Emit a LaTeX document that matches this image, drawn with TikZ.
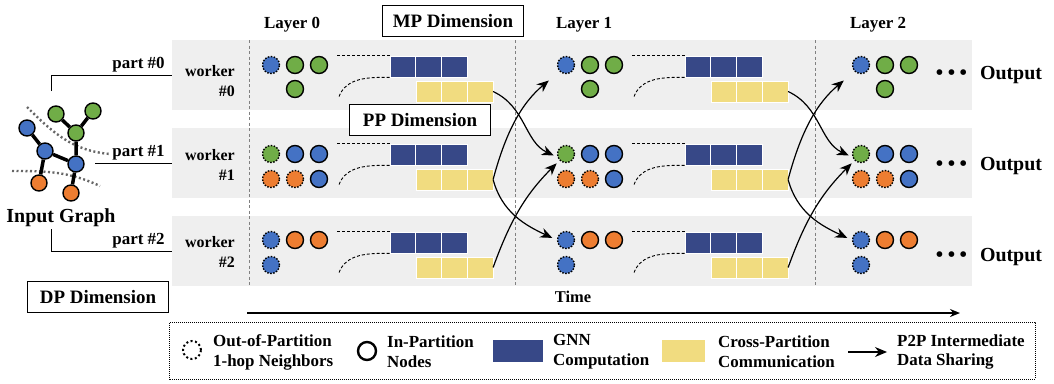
\documentclass[tikz,border=0pt]{standalone}
\usepackage{fontspec}
\setmainfont{Liberation Serif}
\usetikzlibrary{positioning,arrows.meta}
\definecolor{nodeblue}{HTML}{4472C4}
\definecolor{nodegreen}{HTML}{70AD47}
\definecolor{nodeorange}{HTML}{ED7D31}
\definecolor{compblue}{HTML}{374887}
\definecolor{commyellow}{HTML}{F1DC80}
\definecolor{bandgray}{HTML}{EFEFEF}
\definecolor{cutgray}{HTML}{666666}

\tikzset{
  innode/.style={circle,draw=black,line width=1.4bp,minimum size=17bp,inner sep=0pt},
  outnode/.style={innode,dash pattern=on 1.5bp off 1.5bp},
  compcell/.style={fill=compblue,draw=white,line width=0.6bp,minimum width=25.6bp,minimum height=21bp,inner sep=0pt},
  commcell/.style={compcell,fill=commyellow},
  band/.style={fill=bandgray,minimum width=800bp,minimum height=70bp,inner sep=0pt},
  dimbox/.style={draw=black,line width=1.5bp,fill=white,minimum width=141bp,minimum height=31bp,inner sep=0pt,font=\bfseries\fontsize{19}{22}\selectfont},
  lbl/.style={inner sep=0pt,font=\bfseries\fontsize{17}{20}\selectfont},
  biglbl/.style={inner sep=0pt,font=\bfseries\fontsize{20}{24}\selectfont},
  p2p/.style={-{Stealth[length=12bp,width=10bp]},line width=1.2bp},
  link/.style={dash pattern=on 3bp off 2bp,line width=0.9bp},
}

\begin{document}
\begin{tikzpicture}[x=1bp,y=1bp]
  \useasboundingbox (0,0) rectangle (1054,-383);

  % worker bands
  \node[band] (band0) at (572,-75) {};
  \node[band] (band1) at (572,-163) {};
  \node[band] (band2) at (572,-251) {};
  \foreach \x in {249,515,815}
    \draw[gray,dash pattern=on 3bp off 2.5bp,line width=0.7bp] (\x,-40) -- (\x,-287);

  % layer titles
  \node[lbl] (layer0) at (292,-25) {Layer 0};
  \node[lbl] (layer1) at (584,-25) {Layer 1};
  \node[lbl] (layer2) at (878,-25) {Layer 2};

  % input graph
  \draw[cutgray,line width=2.4bp,dash pattern=on 2bp off 2.5bp] (27,-107) to[out=-45,in=175] (110,-154);
  \draw[cutgray,line width=2.4bp,dash pattern=on 2bp off 2.5bp] (12,-171) to[out=0,in=155] (100,-186);
  \node[innode,fill=nodeblue,minimum size=16bp] (gb1) at (27,-128) {};
  \node[innode,fill=nodeblue,minimum size=16bp] (gb2) at (45,-151) {};
  \node[innode,fill=nodeblue,minimum size=16bp] (gb3) at (76,-164) {};
  \node[innode,fill=nodegreen,minimum size=16bp] (gg1) at (56,-114) {};
  \node[innode,fill=nodegreen,minimum size=16bp] (gg2) at (93,-111) {};
  \node[innode,fill=nodegreen,minimum size=16bp] (gg3) at (76,-133) {};
  \node[innode,fill=nodeorange,minimum size=16bp] (go1) at (39,-183) {};
  \node[innode,fill=nodeorange,minimum size=16bp] (go2) at (71,-193) {};
  \draw[line width=3.5bp] (gb1) -- (gb2) -- (gb3) -- (gg3) -- (gg1) (gg3) -- (gg2) (gb2) -- (go1) (gb3) -- (go2);
  \node[biglbl] (ig) at (61,-218) {Input Graph};

  % partitions to workers
  \coordinate (p0) at (51,-91);
  \coordinate (p1) at (95,-163);
  \coordinate (p2) at (51,-229);
  \draw[line width=1bp] (p0) |- (band0.west);
  \draw[line width=1bp] (p1) -- (band1.west);
  \draw[line width=1bp] (p2) |- (band2.west);
  \node[lbl,above left=3bp and 7bp of band0.west] (part0) {part \#0};
  \node[lbl,above left=3bp and 7bp of band1.west] (part1) {part \#1};
  \node[lbl,above left=3bp and 7bp of band2.west] (part2) {part \#2};
  \node[lbl,align=right,font=\bfseries\fontsize{16}{20}\selectfont] (w0) at (210,-81) {worker\\\#0};
  \node[lbl,align=right,font=\bfseries\fontsize{16}{20}\selectfont] (w1) at (210,-165) {worker\\\#1};
  \node[lbl,align=right,font=\bfseries\fontsize{16}{20}\selectfont] (w2) at (210,-252) {worker\\\#2};

  % node features per layer
  \foreach \l/\dx in {0/0,1/295,2/590} {
    \node[outnode,fill=nodeblue] (n\l-0a) at (271+\dx,-65) {};
    \node[innode,fill=nodegreen] (n\l-0b) at (295+\dx,-65) {};
    \node[innode,fill=nodegreen] (n\l-0c) at (319+\dx,-65) {};
    \node[innode,fill=nodegreen] (n\l-0e) at (295+\dx,-89) {};
    \node[outnode,fill=nodegreen] (n\l-1a) at (271+\dx,-154) {};
    \node[innode,fill=nodeblue] (n\l-1b) at (295+\dx,-154) {};
    \node[innode,fill=nodeblue] (n\l-1c) at (319+\dx,-154) {};
    \node[outnode,fill=nodeorange] (n\l-1d) at (271+\dx,-179) {};
    \node[outnode,fill=nodeorange] (n\l-1e) at (295+\dx,-179) {};
    \node[innode,fill=nodeblue] (n\l-1f) at (319+\dx,-179) {};
    \node[outnode,fill=nodeblue] (n\l-2a) at (271+\dx,-240) {};
    \node[innode,fill=nodeorange] (n\l-2b) at (295+\dx,-240) {};
    \node[innode,fill=nodeorange] (n\l-2c) at (319+\dx,-240) {};
    \node[outnode,fill=nodeblue] (n\l-2d) at (271+\dx,-265) {};
  }

  % computation and communication
  \foreach \l/\dx in {0/0,1/295} {
    \foreach \r in {0,1,2} {
      \foreach \k in {1,2,3} {
        \node[compcell] (c\l\r\k) at (377.2+25.6*\k+\dx,-66.5-88*\r) {};
        \node[commcell] (m\l\r\k) at (403.2+25.6*\k+\dx,-91.5-88*\r) {};
      }
      \draw[link] (c\l\r1.north west) -- ++(-53,0);
      \draw[link] (c\l\r1.south west) to[out=180,in=70] ++(-51,-20);
    }
  }

  % intermediate data sharing
  \foreach \l/\n in {0/1,1/2} {
    \draw[p2p,shorten >=4bp] (m\l03.east) to[out=-25,in=155] (n\n-1a.200);
    \draw[p2p,shorten >=14bp] (m\l13.east) to[out=75,in=220] (n\n-0a.south west);
    \draw[p2p,shorten >=5bp] (m\l13.east) to[out=-75,in=155] (n\n-2a.west);
    \draw[p2p,shorten >=4bp] (m\l23.east) to[out=70,in=225] (n\n-1a.225);
  }

  % outputs
  \foreach \r/\y in {0/75,1/166,2/257} {
    \node[biglbl] (out\r) at (1011,-\y) {Output};
    \node[inner sep=0pt,left=12bp of out\r] (dots\r) {\fontsize{24}{24}\selectfont\textbullet\hspace{3.5bp}\textbullet\hspace{3.5bp}\textbullet};
  }

  % dimensions
  \node[dimbox] (mp) at (453,-21) {MP Dimension};
  \node[dimbox] (pp) at (420,-120) {PP Dimension};
  \node[dimbox] (dp) at (98,-297) {DP Dimension};

  % time axis
  \coordinate (tstart) at (247,-313);
  \coordinate (tend) at (960,-313);
  \draw[line width=2.5bp,-{Stealth[length=10bp,width=8bp]}] (tstart) -- (tend);
  \node[lbl,font=\bfseries\fontsize{16.5}{20}\selectfont] (time) at (573,-297) {Time};

  % legend
  \node[draw=black,line width=1bp,dash pattern=on 1bp off 1bp,minimum width=865bp,minimum height=57bp,inner sep=0pt] (legend) at (602.5,-350.5) {};
  \node[innode,minimum size=18bp,line width=2bp,dash pattern=on 2bp off 2.5bp] (lgout) at (192,-350) {};
  \node[lbl,align=left,anchor=west] (lgouttext) at (213,-352) {Out-of-Partition\\1-hop Neighbors};
  \node[innode,minimum size=18bp,line width=2.4bp] (lgin) at (367,-351) {};
  \node[lbl,align=left,anchor=west] (lgintext) at (387,-352) {In-Partition\\Nodes};
  \node[fill=compblue,minimum width=50bp,minimum height=22bp,inner sep=0pt] (lgcomp) at (518,-351) {};
  \node[lbl,align=left,anchor=west] (lgcomptext) at (553,-352) {GNN\\Computation};
  \node[fill=commyellow,minimum width=43bp,minimum height=22bp,inner sep=0pt] (lgcomm) at (683.5,-351) {};
  \node[lbl,align=left,anchor=west] (lgcommtext) at (718,-352) {Cross-Partition\\Communication};
  \coordinate (lga) at (848,-352);
  \coordinate (lgb) at (887,-352);
  \draw[p2p] (lga) -- (lgb);
  \node[lbl,align=left,anchor=west] (lgp2ptext) at (897,-352) {P2P Intermediate\\Data Sharing};
\end{tikzpicture}
\end{document}
